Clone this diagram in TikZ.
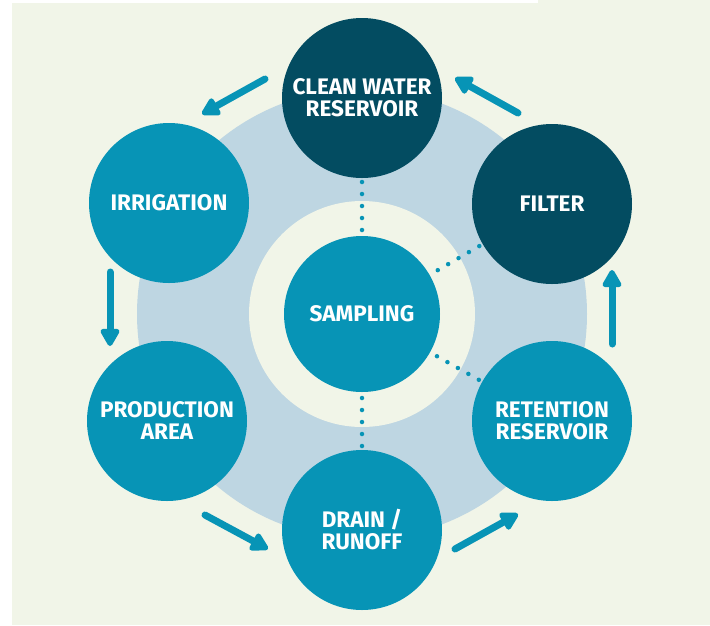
\documentclass[tikz,border=0pt]{standalone}
\usepackage{fontspec}
\setmainfont{Fira Sans}[BoldFont={Fira Sans Bold}]
\usetikzlibrary{arrows.meta}
\definecolor{bgc}{HTML}{F1F5E8}
\definecolor{dark}{HTML}{034C61}
\definecolor{teal}{HTML}{0794B6}
\definecolor{ring}{HTML}{BED6E2}
\pgfdeclarelayer{back}
\pgfsetlayers{back,main}
\tikzset{
  stage/.style={circle,minimum size=160pt,inner sep=0pt,text=white,align=center,
    font=\bfseries\fontsize{22.5}{22}\selectfont},
  lightstage/.style={stage,fill=teal},
  darkstage/.style={stage,fill=dark},
  flow/.style={draw=teal,line width=7pt,line cap=round,
    -{Triangle[length=20pt,width=21pt,round=false]}},
  dots/.style={draw=teal,line width=4.5pt,line cap=round,dash pattern=on 0pt off 12pt}
}
\begin{document}
\begin{tikzpicture}[x=1pt,y=-1pt]
\useasboundingbox (0,0) rectangle (710,625);
\begin{pgfonlayer}{back}
\fill[white] (0,0) rectangle (710,625);
\fill[bgc] (12,2.5) rectangle (710,625);
\fill[bgc] (538,0) rectangle (710,3);
\fill[ring] (362,314) circle[radius=225];
\fill[bgc] (362,314) circle[radius=113];
\end{pgfonlayer}
\node[darkstage] (cw) at (362,98) {CLEAN WATER\\RESERVOIR};
\node[darkstage] (filter) at (552,204) {FILTER};
\node[lightstage] (ret) at (552,421) {RETENTION\\RESERVOIR};
\node[lightstage] (drain) at (362,530) {DRAIN /\\RUNOFF};
\node[lightstage] (prod) at (167,421) {PRODUCTION\\AREA};
\node[lightstage] (irr) at (169,203) {IRRIGATION};
\node[lightstage,minimum size=156pt] (samp) at (362,314) {SAMPLING};
\begin{pgfonlayer}{back}
\draw[dots] (cw.center) -- (samp.center);
\draw[dots] (drain.center) -- (samp.center);
\draw[dots] (filter.center) -- (samp.center);
\draw[dots] (ret.center) -- (samp.center);
\end{pgfonlayer}
\coordinate (a1s) at (265,79);  \coordinate (a1e) at (202,114);
\coordinate (a2s) at (518,113); \coordinate (a2e) at (455,78);
\coordinate (a3s) at (612,344); \coordinate (a3e) at (612,270);
\coordinate (a4s) at (110,272); \coordinate (a4e) at (110,346);
\coordinate (a5s) at (205,515); \coordinate (a5e) at (268,549);
\coordinate (a6s) at (455,549); \coordinate (a6e) at (518,514);
\draw[flow] (a1s) -- (a1e);
\draw[flow] (a2s) -- (a2e);
\draw[flow] (a3s) -- (a3e);
\draw[flow] (a4s) -- (a4e);
\draw[flow] (a5s) -- (a5e);
\draw[flow] (a6s) -- (a6e);
\end{tikzpicture}
\end{document}
